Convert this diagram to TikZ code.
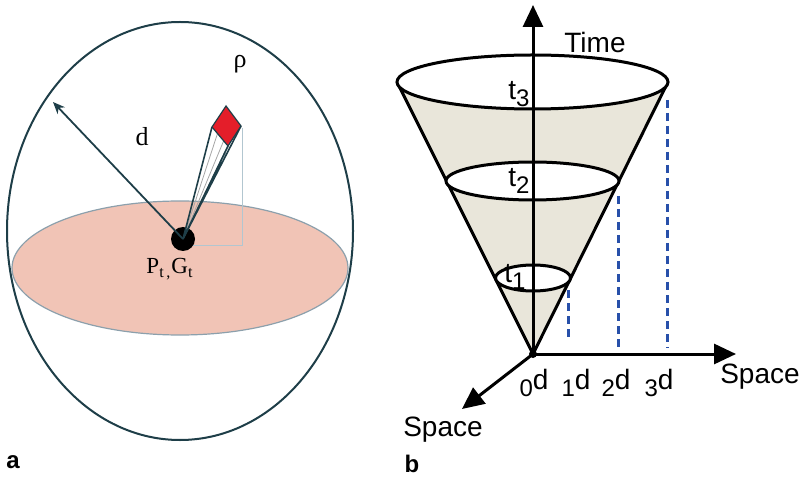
\documentclass[tikz,border=0pt]{standalone}
\usepackage{fontspec}
\setmainfont{Liberation Sans}
\newfontfamily\serifpanel{Liberation Serif}
\usetikzlibrary{arrows.meta}
\definecolor{shellline}{RGB}{30,62,72}
\definecolor{discfill}{RGB}{241,196,182}
\definecolor{discline}{RGB}{140,160,172}
\definecolor{boxline}{RGB}{178,198,208}
\definecolor{gemred}{RGB}{228,30,42}
\definecolor{conefill}{RGB}{233,230,218}
\definecolor{markblue}{RGB}{40,80,170}
\newcommand{\lowidx}[1]{\raisebox{-0.45ex}{\fontsize{12}{14}\selectfont #1}}

\begin{document}
\begin{tikzpicture}[x=0.5pt, y=-0.5pt,
  axis/.style={line width=1.5pt, -{Triangle[length=11pt,width=10pt]}},
  rim/.style={line width=1.5pt, fill=white},
  tick/.style={line width=1.5pt, markblue, dash pattern=on 4pt off 2.5pt},
  sanslbl/.style={font=\fontsize{14}{16}\selectfont, inner sep=0pt},
  seriflbl/.style={font=\serifpanel\fontsize{13}{15}\selectfont, inner sep=0pt}]
  \useasboundingbox (0,0) rectangle (801,480);

  %--- a: sphere with disc ---
  \fill[discfill, draw=discline, line width=0.6pt] (180,268) ellipse [x radius=168, y radius=67];
  \draw[shellline, line width=1pt] (180,231) ellipse [x radius=173, y radius=209];
  \draw[boxline, line width=0.5pt] (183,246) -- (242,246) -- (242,128);

  % device
  \coordinate (gl) at (212,127);
  \coordinate (gt) at (226,106);
  \coordinate (gr) at (241,126);
  \coordinate (gb) at (228,146);
  \node[circle, fill=black, inner sep=0pt, minimum size=12pt] (pos) at (183,239) {};
  \draw[gray!70, line width=0.4pt] (pos.center) -- (218,132) (pos.center) -- (224,140) (pos.center) -- (234,133);
  \draw[shellline, line width=0.8pt] (pos.center) -- (gl) (pos.center) -- (gb) (pos.center) -- (gr);
  \filldraw[fill=gemred, draw=shellline, line width=0.6pt] (gl) -- (gt) -- (gr) -- (gb) -- cycle;

  \coordinate (rim) at (53,102);
  \draw[shellline, line width=0.9pt, -{Stealth[length=6pt,width=5pt]}] (pos.center) -- (rim);

  \node[seriflbl] (dlbl) at (142,137) {d};
  \node[seriflbl] (rholbl) at (240,64) {ρ};
  \node[seriflbl, font=\serifpanel\fontsize{11.5}{13}\selectfont] (pglbl) at (170,269) {P\textsubscript{t\,,}G\textsubscript{t}};
  \node[font=\bfseries\fontsize{12}{14}\selectfont, inner sep=0pt] (alabel) at (13,462) {a};

  %--- b: light cone ---
  \coordinate (origin) at (533,354);
  \fill[conefill] (397,82) -- (origin) -- (668,82) -- cycle;
  \draw[line width=1.5pt] (397,82) -- (origin) -- (668,82);
  \draw[rim] (532.5,82) ellipse [x radius=135.5, y radius=27];
  \draw[rim] (532.5,181) ellipse [x radius=86.5, y radius=19];
  \draw[rim] (533,278) ellipse [x radius=37.5, y radius=13];

  \draw[tick] (568,290) -- (568,338);
  \draw[tick] (618,196) -- (618,348);
  \draw[tick] (667,100) -- (667,348);

  \coordinate (timeend) at (533,5);
  \coordinate (spacex) at (736,354);
  \coordinate (spacey) at (462,409);
  \draw[axis] (origin) -- (timeend);
  \draw[axis] (origin) -- (spacex);
  \draw[axis] (origin) -- (spacey);
  \node[circle, fill=black, inner sep=0pt, minimum size=4pt] (o) at (origin) {};

  \node[sanslbl] (timelbl) at (595,42) {Time};
  \node[sanslbl] (t3) at (519,94) {t\lowidx{3}};
  \node[sanslbl] (t2) at (519,181) {t\lowidx{2}};
  \node[sanslbl] (t1) at (515,277) {t\lowidx{1}};
  \node[sanslbl] (d0) at (534,383) {\lowidx{0}d};
  \node[sanslbl] (d1) at (576,383) {\lowidx{1}d};
  \node[sanslbl] (d2) at (616,383) {\lowidx{2}d};
  \node[sanslbl] (d3) at (659,383) {\lowidx{3}d};
  \node[sanslbl] (spacexlbl) at (760,377) {Space};
  \node[sanslbl] (spaceylbl) at (443,430) {Space};
  \node[font=\bfseries\fontsize{12}{14}\selectfont, inner sep=0pt] (blabel) at (412,464) {b};
\end{tikzpicture}
\end{document}
